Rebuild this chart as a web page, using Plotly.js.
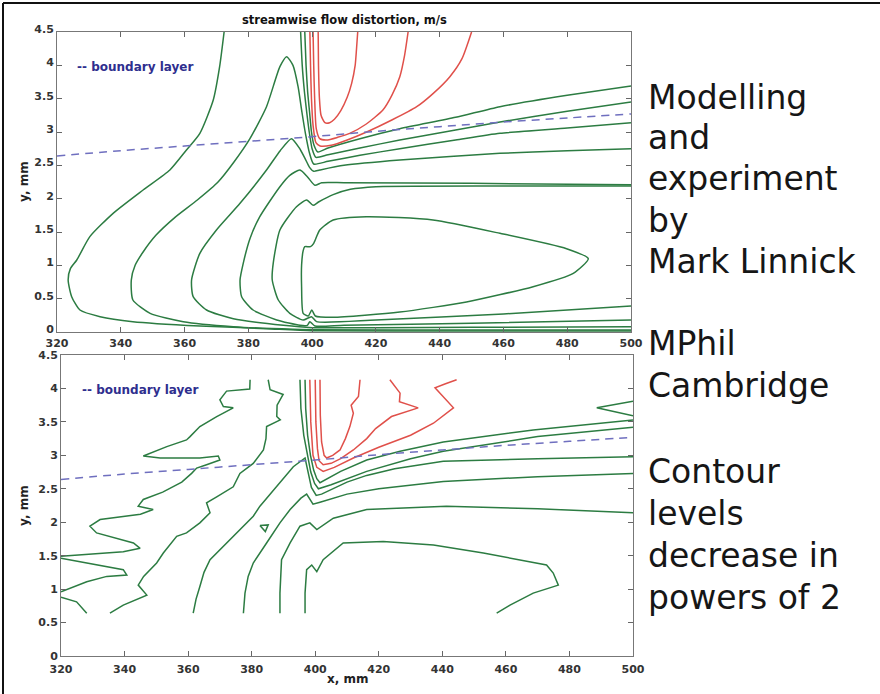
<!DOCTYPE html>
<html>
<head>
<meta charset="utf-8">
<script src="https://cdn.plot.ly/plotly-3.0.1.min.js"></script>
<style>
  html, body { margin: 0; padding: 0; background: #fff; }
  #chart { width: 880px; height: 694px; }
</style>
</head>
<body>
<div id="chart"></div>
<script>
// ---------- tick labels ----------
const xTicks = [320, 340, 360, 380, 400, 420, 440, 460, 480, 500];
const yTicks = [0, 0.5, 1, 1.5, 2, 2.5, 3, 3.5, 4, 4.5];

// ---------- boundary layer (dashed) ----------
const bl_x = [320, 340, 360, 380, 400, 420, 440, 460, 480, 500];
const bl_y = [2.64, 2.72, 2.79, 2.86, 2.93, 3.01, 3.08, 3.15, 3.21, 3.27];

// ---------- MODEL (top) contours ----------
const m_g1_x = [500, 450, 400, 385.7, 364.8, 343.8, 333.5, 327.2, 324.6, 323.5, 324.2, 326.2, 330.3, 337.6, 347, 355.4, 360.6, 364.8, 369, 371, 372.4];
const m_g1_y = [0.015, 0.015, 0.02, 0.05, 0.09, 0.155, 0.23, 0.33, 0.53, 0.78, 0.95, 1.08, 1.43, 1.78, 2.13, 2.43, 2.73, 2.98, 3.48, 3.98, 4.5];

const m_g2_x = [500, 450, 400, 394, 375.3, 359.6, 349.2, 343.8, 343.3, 344.5, 347, 351, 357, 364, 370.5, 375.5, 380.5, 385.7, 389.9, 392, 394, 395.6, 396.8, 397.9, 399.2, 400.5, 405, 415, 427.5, 445, 458.9, 480, 500];
const m_g2_y = [0.03, 0.03, 0.035, 0.04, 0.08, 0.155, 0.28, 0.48, 0.78, 1.0, 1.2, 1.45, 1.72, 1.98, 2.25, 2.55, 2.9, 3.38, 3.98, 4.13, 4.0, 3.68, 3.3, 2.98, 2.68, 2.52, 2.56, 2.65, 2.75, 2.88, 2.98, 3.06, 3.14];

const m_g3_x = [500, 450, 420, 400, 391, 375.3, 366.9, 362.7, 362.2, 364.8, 370, 377.4, 385.7, 390, 393.5, 396, 397.8, 399.2, 400.5, 402.4, 410, 427.5, 458.9, 480, 500];
const m_g3_y = [0.08, 0.07, 0.065, 0.065, 0.1, 0.2, 0.33, 0.53, 0.78, 1.18, 1.53, 1.93, 2.43, 2.72, 2.9, 2.76, 2.6, 2.47, 2.41, 2.43, 2.5, 2.58, 2.68, 2.72, 2.75];

const m_g4_x = [500, 450, 410, 400.9, 399.3, 398.5, 396.2, 388.9, 381.5, 377.9, 377.4, 378.4, 380.5, 383.6, 389.9, 393, 396.2, 398.5, 400.9, 403, 410, 450, 500];
const m_g4_y = [0.18, 0.13, 0.1, 0.09, 0.155, 0.1, 0.1, 0.18, 0.33, 0.53, 0.78, 1.03, 1.4, 1.73, 2.18, 2.35, 2.43, 2.33, 2.2, 2.24, 2.24, 2.23, 2.21];

const m_g5_x = [500, 460, 420, 401.4, 399.8, 397.2, 393, 389.4, 387.5, 387.8, 389.9, 395.1, 398.3, 400.3, 402, 406.6, 412, 420, 460, 500];
const m_g5_y = [0.39, 0.27, 0.18, 0.155, 0.23, 0.18, 0.28, 0.48, 0.78, 1.03, 1.53, 1.88, 1.98, 1.9, 1.95, 2.06, 2.14, 2.18, 2.19, 2.19];

const m_loop_x = [397.7, 399.5, 400.5, 402.4, 406.6, 417, 437.9, 458.9, 479.8, 486.6, 481.9, 469.3, 448.4, 427.5, 406.6, 401, 399.9, 398.8, 397.2, 396.7, 396.7, 397.2, 397.7];
const m_loop_y = [1.28, 1.28, 1.33, 1.53, 1.68, 1.73, 1.68, 1.48, 1.25, 1.1, 0.88, 0.68, 0.45, 0.3, 0.22, 0.24, 0.33, 0.24, 0.28, 0.68, 1.0, 1.22, 1.28];

const m_t1_x = [397.7, 398.1, 398.6, 399.2, 399.8, 400.6, 401.8, 405, 415, 427.5, 445, 458.9, 480, 500];
const m_t1_y = [4.5, 4.0, 3.6, 3.3, 3.0, 2.8, 2.7, 2.76, 2.9, 3.05, 3.22, 3.38, 3.55, 3.69];
const m_t2_x = [396.4, 396.9, 397.6, 398.3, 399.1, 400, 401.2, 405, 415, 427.5, 445, 458.9, 480, 500];
const m_t2_y = [4.5, 4.0, 3.6, 3.3, 3.0, 2.75, 2.62, 2.66, 2.76, 2.88, 3.03, 3.15, 3.31, 3.45];

const m_r1_x = [401.9, 402, 402.3, 402.8, 404, 405.5, 407, 409, 411, 412.4, 413.5, 413.9, 414.3];
const m_r1_y = [4.5, 4.0, 3.5, 3.25, 3.14, 3.14, 3.19, 3.32, 3.52, 3.73, 4.0, 4.23, 4.5];
const m_r2_x = [400.3, 400.5, 400.8, 401.3, 402.4, 404.5, 408, 411.8, 417, 422.2, 425, 427.5, 429, 430.1];
const m_r2_y = [4.5, 4.0, 3.5, 3.05, 2.9, 2.88, 2.92, 2.98, 3.12, 3.33, 3.55, 3.83, 4.15, 4.5];
const m_r3_x = [399.3, 399.5, 399.8, 400.3, 401.2, 402.5, 406, 411, 417.1, 425, 432.8, 438, 443.2, 447, 450];
const m_r3_y = [4.5, 4.0, 3.5, 3.1, 2.84, 2.79, 2.8, 2.88, 3.0, 3.18, 3.38, 3.58, 3.83, 4.1, 4.5];

// ---------- EXPERIMENT (bottom) contours ----------
const e_p1_x = [379.5, 379.4, 372.1, 370, 371.1, 374.2, 369, 363.7, 360.6, 359.5, 353.3, 348, 345.9, 351.2, 363.7, 369.5, 370, 365.8, 362.7, 361.1, 358, 352, 345.9, 344.3, 349, 345, 332.3, 329.1, 331.2, 342.8, 344.9, 339.6, 320];
const e_p1_y = [4.13, 3.99, 3.96, 3.83, 3.73, 3.71, 3.58, 3.43, 3.28, 3.23, 3.13, 3.03, 2.99, 2.96, 2.96, 2.99, 2.93, 2.86, 2.81, 2.73, 2.6, 2.45, 2.34, 2.24, 2.19, 2.12, 2.04, 1.94, 1.84, 1.69, 1.61, 1.56, 1.49];
const e_p0_x = [320, 332.3, 339.6, 340.7, 334.4, 328.1, 320];
const e_p0_y = [1.46, 1.36, 1.29, 1.21, 1.19, 1.11, 0.96];
const e_pm_x = [320, 324.9, 328.1];
const e_pm_y = [0.88, 0.81, 0.64];
const e_p2_x = [385.2, 385.8, 389.9, 388, 387.9, 389, 384.7, 384.5, 383.7, 380.5, 376.3, 375.3, 374.2, 369, 365.8, 366.9, 363.7, 359.5, 356.4, 352.2, 350.1, 346, 344.3, 347, 339.6, 335.4];
const e_p2_y = [4.13, 3.98, 3.91, 3.75, 3.58, 3.53, 3.43, 3.25, 3.08, 2.88, 2.73, 2.63, 2.53, 2.38, 2.29, 2.14, 1.99, 1.84, 1.79, 1.54, 1.39, 1.19, 1.06, 0.91, 0.76, 0.64];
const e_p3_x = [361.6, 362.5, 363.7, 365, 366.9, 372.1, 376.3, 380.5, 382.6, 387.9, 393.1, 396.8, 397.8, 398.8, 400.3, 402, 410, 416.2, 425, 440.3, 470, 500];
const e_p3_y = [0.64, 0.85, 1.04, 1.25, 1.44, 1.69, 1.89, 2.09, 2.24, 2.53, 2.83, 2.96, 2.75, 2.52, 2.4, 2.42, 2.6, 2.7, 2.8, 2.91, 2.95, 2.98];
const e_p35_x = [377.4, 377.9, 378.9, 380.5, 384.7, 388.9, 392.1, 395.5, 397.3, 399.3, 401.5, 410, 420, 440.3, 470, 500];
const e_p35_y = [0.64, 0.94, 1.19, 1.39, 1.69, 1.99, 2.19, 2.36, 2.42, 2.27, 2.3, 2.42, 2.5, 2.61, 2.68, 2.73];
const e_p4_x = [388.9, 388.9, 389.4, 392.1, 395.2, 398.3, 400.5, 405.7, 416.2, 441.3, 470, 500];
const e_p4_y = [0.64, 0.94, 1.44, 1.69, 1.94, 1.99, 1.89, 2.06, 2.19, 2.24, 2.2, 2.14];
const e_p5_x = [396.8, 396.8, 397.3, 398.9, 400.5, 402.5, 408.8, 421.4, 437.2, 452.9, 472.8, 474.9, 476.5, 468.6, 461.3, 457.1];
const e_p5_y = [0.64, 0.94, 1.29, 1.36, 1.26, 1.44, 1.69, 1.71, 1.66, 1.54, 1.36, 1.24, 1.06, 0.94, 0.76, 0.64];
const e_t1_x = [396.8, 397, 397.6, 398.5, 399.5, 400.5, 401.5, 408, 416.2, 426.7, 440.3, 468.6, 500];
const e_t1_y = [4.13, 3.7, 3.3, 3.0, 2.78, 2.65, 2.59, 2.76, 2.93, 3.06, 3.2, 3.38, 3.53];
const e_t2_x = [395.2, 395.5, 396.4, 397.5, 398.6, 399.8, 401, 405, 416.2, 430, 440.3, 470, 500];
const e_t2_y = [4.13, 3.7, 3.3, 3.0, 2.75, 2.58, 2.5, 2.56, 2.76, 2.95, 3.06, 3.28, 3.42];
const e_w_x = [500, 488.6, 500];
const e_w_y = [3.81, 3.71, 3.59];
const e_s_x = [382.6, 385.2, 384.3, 382.6];
const e_s_y = [1.95, 1.96, 1.86, 1.95];
const e_r1_x = [401.5, 401.6, 402, 402.8, 403.6, 405.5, 407.8, 409.5, 410.9, 412, 411.3, 413.6, 414.1];
const e_r1_y = [4.13, 3.6, 3.2, 3.0, 2.96, 3.0, 3.08, 3.25, 3.43, 3.63, 3.75, 3.88, 4.13];
const e_r2_x = [400, 400.2, 400.7, 401.2, 402.5, 405, 408, 412, 416.2, 419, 424, 432.4, 426.5, 426.7, 423.5];
const e_r2_y = [4.13, 3.5, 3.1, 2.92, 2.86, 2.88, 2.95, 3.08, 3.25, 3.4, 3.58, 3.71, 3.8, 3.93, 4.13];
const e_r3_x = [398.3, 398.6, 399.3, 400.5, 402.5, 406, 412, 420, 430, 437.2, 443.5, 437.7, 441, 444.5];
const e_r3_y = [4.13, 3.5, 3.0, 2.82, 2.76, 2.82, 2.96, 3.12, 3.3, 3.48, 3.71, 4.01, 4.07, 4.13];

// ---------- texts ----------
const titleText = "streamwise flow distortion, m/s";
const legendText = "-- boundary layer";
const xTitle = "x, mm";
const yTitle = "y, mm";
const sideLines = ["Modelling", "and", "experiment", "by", "Mark Linnick", "MPhil", "Cambridge", "Contour", "levels", "decrease in", "powers of 2"];
const sideCenters = [97, 138, 179, 220, 261, 343, 385, 471, 513, 555, 597];

// ---------- styles ----------
const GREEN = "#2c7c42";
const RED = "#e0504a";
const DASH = "#6f6fbf";
const W = 880, H = 694;

function tr(x, y, color, xa, ya, smooth) {
  return {
    type: "scatter", mode: "lines", x: x, y: y, xaxis: xa, yaxis: ya,
    line: smooth ? { color: color, width: 1.5, shape: "spline", smoothing: 0.6 }
                 : { color: color, width: 1.5 },
    hoverinfo: "skip", showlegend: false
  };
}
function dashTr(xa, ya) {
  return { type: "scatter", mode: "lines", x: bl_x, y: bl_y, xaxis: xa, yaxis: ya,
    line: { color: DASH, width: 1.5, dash: "8px,6px", shape: "spline" },
    hoverinfo: "skip", showlegend: false };
}

const data = [
  tr(m_g1_x, m_g1_y, GREEN, "x", "y", true),
  tr(m_g2_x, m_g2_y, GREEN, "x", "y", true),
  tr(m_g3_x, m_g3_y, GREEN, "x", "y", true),
  tr(m_g4_x, m_g4_y, GREEN, "x", "y", true),
  tr(m_g5_x, m_g5_y, GREEN, "x", "y", true),
  tr(m_loop_x, m_loop_y, GREEN, "x", "y", true),
  tr(m_t1_x, m_t1_y, GREEN, "x", "y", true),
  tr(m_t2_x, m_t2_y, GREEN, "x", "y", true),
  tr(m_r1_x, m_r1_y, RED, "x", "y", true),
  tr(m_r2_x, m_r2_y, RED, "x", "y", true),
  tr(m_r3_x, m_r3_y, RED, "x", "y", true),
  dashTr("x", "y"),
  tr(e_p1_x, e_p1_y, GREEN, "x2", "y2", false),
  tr(e_p0_x, e_p0_y, GREEN, "x2", "y2", false),
  tr(e_pm_x, e_pm_y, GREEN, "x2", "y2", false),
  tr(e_p2_x, e_p2_y, GREEN, "x2", "y2", false),
  tr(e_p3_x, e_p3_y, GREEN, "x2", "y2", false),
  tr(e_p35_x, e_p35_y, GREEN, "x2", "y2", false),
  tr(e_p4_x, e_p4_y, GREEN, "x2", "y2", false),
  tr(e_p5_x, e_p5_y, GREEN, "x2", "y2", false),
  tr(e_t1_x, e_t1_y, GREEN, "x2", "y2", false),
  tr(e_t2_x, e_t2_y, GREEN, "x2", "y2", false),
  tr(e_w_x, e_w_y, GREEN, "x2", "y2", false),
  tr(e_s_x, e_s_y, GREEN, "x2", "y2", false),
  tr(e_r1_x, e_r1_y, RED, "x2", "y2", false),
  tr(e_r2_x, e_r2_y, RED, "x2", "y2", false),
  tr(e_r3_x, e_r3_y, RED, "x2", "y2", false),
  dashTr("x2", "y2")
];

const tickFont = { family: "DejaVu Sans", size: 11, color: "#333", weight: "bold" };
function xAxis(domain, anchor, standoff) {
  return { domain: domain, anchor: anchor, range: [320, 500], tickmode: "array",
    tickvals: xTicks, ticktext: xTicks.map(String), ticks: "inside", ticklen: 5, tickcolor: "#666",
    showline: true, linecolor: "#777", linewidth: 1, mirror: "ticks", ticklabelstandoff: standoff,
    showgrid: false, zeroline: false, tickfont: tickFont, fixedrange: true };
}
function yAxis(domain, anchor, shift) {
  return { domain: domain, anchor: anchor, range: [0, 4.5], tickmode: "array",
    tickvals: yTicks, ticktext: yTicks.map(String), ticks: "inside", ticklen: 5, tickcolor: "#666",
    showline: true, linecolor: "#777", linewidth: 1, mirror: "ticks", ticklabelshift: shift,
    showgrid: false, zeroline: false, tickfont: tickFont, fixedrange: true };
}

const smallFont = { family: "DejaVu Sans", size: 12, color: "#222", weight: "bold" };
const annotations = [
  { xref: "paper", yref: "paper", x: 344 / W, y: 1 - 20 / H, text: titleText, showarrow: false,
    font: { family: "DejaVu Sans", size: 11.5, color: "#111", weight: "bold" }, xanchor: "center", yanchor: "middle" },
  { xref: "x", yref: "y", x: 325.5, y: 3.97, text: legendText, showarrow: false,
    font: { family: "DejaVu Sans", size: 12, color: "#2e2e8e", weight: "bold" }, xanchor: "left", yanchor: "middle" },
  { xref: "x2", yref: "y2", x: 326, y: 3.98, text: legendText, showarrow: false,
    font: { family: "DejaVu Sans", size: 12, color: "#2e2e8e", weight: "bold" }, xanchor: "left", yanchor: "middle" },
  { xref: "paper", yref: "paper", x: 24 / W, y: 1 - 182 / H, text: yTitle, textangle: -90, showarrow: false,
    font: smallFont, xanchor: "center", yanchor: "middle" },
  { xref: "paper", yref: "paper", x: 24 / W, y: 1 - 506 / H, text: yTitle, textangle: -90, showarrow: false,
    font: smallFont, xanchor: "center", yanchor: "middle" },
  { xref: "paper", yref: "paper", x: 347 / W, y: 1 - 679 / H, text: xTitle, showarrow: false,
    font: smallFont, xanchor: "center", yanchor: "middle" }
];
sideLines.forEach((t, i) => {
  annotations.push({ xref: "paper", yref: "paper", x: 646 / W, y: 1 - sideCenters[i] / H, text: t,
    showarrow: false, xanchor: "left", yanchor: "middle",
    font: { family: "DejaVu Sans", size: 33, color: "#161616" } });
});

const layout = {
  width: W, height: H,
  margin: { l: 0, r: 0, t: 0, b: 0, pad: 0 },
  paper_bgcolor: "#ffffff", plot_bgcolor: "#ffffff",
  showlegend: false,
  xaxis: xAxis([57 / W, 631 / W], "y", 1),
  yaxis: yAxis([1 - 332 / H, 1 - 32 / H], "x", -3),
  xaxis2: xAxis([61 / W, 633 / W], "y2", 3),
  yaxis2: yAxis([1 - 656 / H, 1 - 355 / H], "x2", 0),
  annotations: annotations,
  shapes: [
    { type: "line", xref: "paper", yref: "paper", x0: 3 / W, x1: 3 / W, y0: 0, y1: 1 - 3 / H,
      line: { color: "#111", width: 2 } },
    { type: "line", xref: "paper", yref: "paper", x0: 3 / W, x1: 1, y0: 1 - 3 / H, y1: 1 - 3 / H,
      line: { color: "#111", width: 2 } }
  ]
};

Plotly.newPlot("chart", data, layout, { displayModeBar: false, staticPlot: true });
</script>
</body>
</html>
